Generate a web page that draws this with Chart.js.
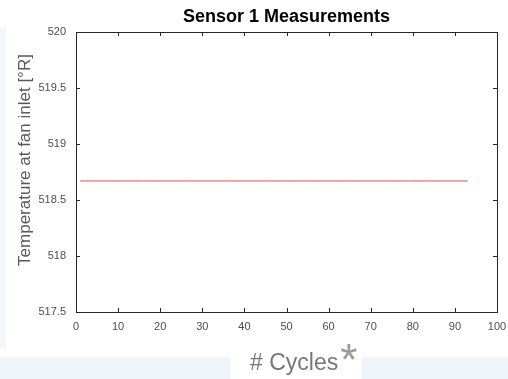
<!DOCTYPE html>
<html>
<head>
<meta charset="utf-8">
<title>Sensor 1 Measurements</title>
<script src="https://cdn.jsdelivr.net/npm/chart.js@4"></script>
<style>
  html, body { margin: 0; padding: 0; background: #fff; }
  #wrap { position: relative; width: 508px; height: 379px; overflow: hidden; }
  .band { position: absolute; background: #f0f5fa; }
  canvas { position: absolute; left: 0; top: 0; }
</style>
</head>
<body>
<div id="wrap">
  <div class="band" style="left:0;top:357px;width:230px;height:22px"></div>
  <div class="band" style="left:362px;top:357px;width:146px;height:22px"></div>
  <div class="band" style="left:0;top:28px;width:6px;height:320px;background:#f4f6f8"></div>
  <canvas id="sensorChart" width="508" height="379"></canvas>
</div>
<script>
// cycle number and temperature (flat at ~518.67 °R)
var cycles = [1, 2, 3, 4, 5, 6, 7, 8, 9, 10, 11, 12, 13, 14, 15, 16, 17, 18, 19, 20,
  21, 22, 23, 24, 25, 26, 27, 28, 29, 30, 31, 32, 33, 34, 35, 36, 37, 38, 39, 40,
  41, 42, 43, 44, 45, 46, 47, 48, 49, 50, 51, 52, 53, 54, 55, 56, 57, 58, 59, 60,
  61, 62, 63, 64, 65, 66, 67, 68, 69, 70, 71, 72, 73, 74, 75, 76, 77, 78, 79, 80,
  81, 82, 83, 84, 85, 86, 87, 88, 89, 90, 91, 92, 93];
var temps = [518.67, 518.67, 518.67, 518.67, 518.67, 518.67, 518.67, 518.67, 518.67, 518.67,
  518.67, 518.67, 518.67, 518.67, 518.67, 518.67, 518.67, 518.67, 518.67, 518.67,
  518.67, 518.67, 518.67, 518.67, 518.67, 518.67, 518.67, 518.67, 518.67, 518.67,
  518.67, 518.67, 518.67, 518.67, 518.67, 518.67, 518.67, 518.67, 518.67, 518.67,
  518.67, 518.67, 518.67, 518.67, 518.67, 518.67, 518.67, 518.67, 518.67, 518.67,
  518.67, 518.67, 518.67, 518.67, 518.67, 518.67, 518.67, 518.67, 518.67, 518.67,
  518.67, 518.67, 518.67, 518.67, 518.67, 518.67, 518.67, 518.67, 518.67, 518.67,
  518.67, 518.67, 518.67, 518.67, 518.67, 518.67, 518.67, 518.67, 518.67, 518.67,
  518.67, 518.67, 518.67, 518.67, 518.67, 518.67, 518.67, 518.67, 518.67, 518.67,
  518.67, 518.67, 518.67];

var xTickVals = [0, 10, 20, 30, 40, 50, 60, 70, 80, 90, 100];
var xTickLabels = ['0', '10', '20', '30', '40', '50', '60', '70', '80', '90', '100'];
var yTickVals = [517.5, 518, 518.5, 519, 519.5, 520];
var yTickLabels = ['517.5', '518', '518.5', '519', '519.5', '520'];

var chartTitle = 'Sensor 1 Measurements';
var yTitle = 'Temperature at fan inlet [°R]';
var xTitle = '# Cycles';

var FONT = '"Liberation Sans", Arial, sans-serif';

// matlab style box with inward ticks on all four sides + the slide captions
var matlabBox = {
  id: 'matlabBox',
  afterDraw: function (chart) {
    var ctx = chart.ctx;
    var a = chart.chartArea;
    var xs = chart.scales.x, ys = chart.scales.y;
    ctx.save();
    ctx.strokeStyle = '#262626';
    ctx.lineWidth = 1;
    ctx.strokeRect(a.left + 0.5, a.top + 0.5, a.right - a.left, a.bottom - a.top);
    ctx.beginPath();
    xs.ticks.forEach(function (t) {
      var px = Math.round(xs.getPixelForValue(t.value)) + 0.5;
      ctx.moveTo(px, a.bottom); ctx.lineTo(px, a.bottom - 4);
      ctx.moveTo(px, a.top); ctx.lineTo(px, a.top + 4);
    });
    ys.ticks.forEach(function (t) {
      var py = Math.round(ys.getPixelForValue(t.value)) + 0.5;
      ctx.moveTo(a.left, py); ctx.lineTo(a.left + 4, py);
      ctx.moveTo(a.right, py); ctx.lineTo(a.right - 4, py);
    });
    ctx.stroke();

    // y caption
    ctx.fillStyle = '#595959';
    ctx.font = '17px ' + FONT;
    ctx.translate(30, 160);
    ctx.rotate(-Math.PI / 2);
    ctx.textAlign = 'center';
    ctx.textBaseline = 'alphabetic';
    ctx.fillText(yTitle, 0, 0);
    ctx.setTransform(1, 0, 0, 1, 0, 0);

    // x caption with the big asterisk
    ctx.textAlign = 'left';
    ctx.fillStyle = '#777777';
    ctx.font = '23px ' + FONT;
    ctx.fillText(xTitle, 250, 370);
    var w = ctx.measureText(xTitle).width;
    ctx.fillStyle = '#9a9a9a';
    ctx.font = '44px ' + FONT;
    ctx.fillText('*', 250 + w + 2, 375);
    ctx.restore();
  }
};

new Chart(document.getElementById('sensorChart').getContext('2d'), {
  type: 'line',
  data: {
    datasets: [{
      label: 'Sensor 1',
      data: cycles.map(function (c, i) { return { x: c, y: temps[i] }; }),
      borderColor: '#e8484a',
      borderWidth: 1,
      pointRadius: 0,
      tension: 0,
      fill: false
    }]
  },
  options: {
    responsive: false,
    animation: false,
    layout: { padding: { top: 0, left: 0, right: 11, bottom: 0 } },
    plugins: {
      legend: { display: false },
      tooltip: { enabled: false },
      title: {
        display: true,
        text: chartTitle,
        fullSize: false,
        color: '#000',
        font: { family: FONT, size: 18, weight: 'bold' },
        padding: { top: 6, bottom: 4.4 }
      }
    },
    scales: {
      x: {
        type: 'linear',
        min: 0,
        max: 100,
        afterFit: function (s) { s.height = 67; s.paddingLeft = 0; s.paddingRight = 0; },
        afterBuildTicks: function (s) { s.ticks = xTickVals.map(function (v) { return { value: v }; }); },
        grid: { display: false, drawTicks: false },
        border: { display: false },
        ticks: {
          padding: 8,
          maxRotation: 0,
          autoSkip: false,
          color: '#4d4d4d',
          font: { family: FONT, size: 11 },
          callback: function (v, i) { return xTickLabels[i]; }
        }
      },
      y: {
        min: 517.5,
        max: 520,
        afterFit: function (s) { s.width = 76; s.paddingTop = 0; s.paddingBottom = 0; },
        afterBuildTicks: function (s) { s.ticks = yTickVals.map(function (v) { return { value: v }; }); },
        grid: { display: false, drawTicks: false },
        border: { display: false },
        ticks: {
          padding: 10,
          autoSkip: false,
          color: '#4d4d4d',
          font: { family: FONT, size: 11 },
          callback: function (v, i) { return yTickLabels[i]; }
        }
      }
    }
  },
  plugins: [matlabBox]
});
</script>
</body>
</html>
